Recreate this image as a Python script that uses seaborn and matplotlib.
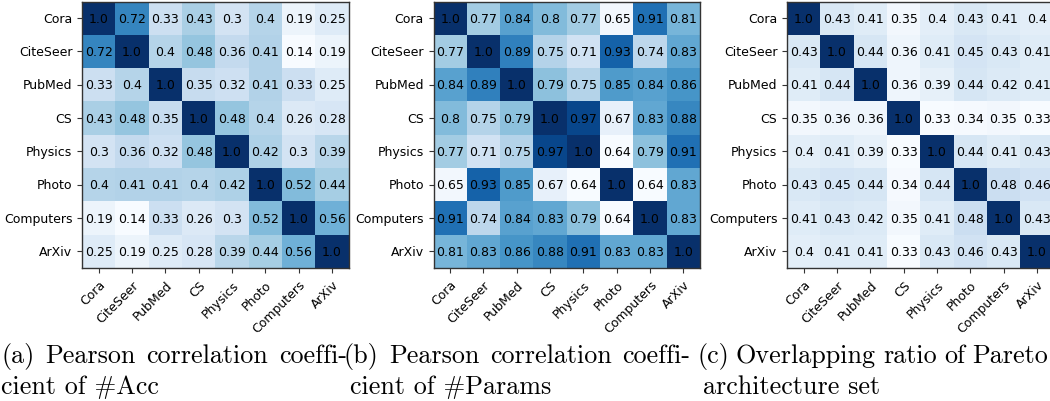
import numpy as np
import pandas as pd
import matplotlib
matplotlib.use("Agg")
import matplotlib.pyplot as plt
import seaborn as sns

datasets = ["Cora", "CiteSeer", "PubMed", "CS", "Physics", "Photo", "Computers", "ArXiv"]

acc_corr = [
    [1.0, 0.72, 0.33, 0.43, 0.3, 0.4, 0.19, 0.25],
    [0.72, 1.0, 0.4, 0.48, 0.36, 0.41, 0.14, 0.19],
    [0.33, 0.4, 1.0, 0.35, 0.32, 0.41, 0.33, 0.25],
    [0.43, 0.48, 0.35, 1.0, 0.48, 0.4, 0.26, 0.28],
    [0.3, 0.36, 0.32, 0.48, 1.0, 0.42, 0.3, 0.39],
    [0.4, 0.41, 0.41, 0.4, 0.42, 1.0, 0.52, 0.44],
    [0.19, 0.14, 0.33, 0.26, 0.3, 0.52, 1.0, 0.56],
    [0.25, 0.19, 0.25, 0.28, 0.39, 0.44, 0.56, 1.0],
]

params_corr = [
    [1.0, 0.77, 0.84, 0.8, 0.77, 0.65, 0.91, 0.81],
    [0.77, 1.0, 0.89, 0.75, 0.71, 0.93, 0.74, 0.83],
    [0.84, 0.89, 1.0, 0.79, 0.75, 0.85, 0.84, 0.86],
    [0.8, 0.75, 0.79, 1.0, 0.97, 0.67, 0.83, 0.88],
    [0.77, 0.71, 0.75, 0.97, 1.0, 0.64, 0.79, 0.91],
    [0.65, 0.93, 0.85, 0.67, 0.64, 1.0, 0.64, 0.83],
    [0.91, 0.74, 0.84, 0.83, 0.79, 0.64, 1.0, 0.83],
    [0.81, 0.83, 0.86, 0.88, 0.91, 0.83, 0.83, 1.0],
]

pareto_overlap = [
    [1.0, 0.43, 0.41, 0.35, 0.4, 0.43, 0.41, 0.4],
    [0.43, 1.0, 0.44, 0.36, 0.41, 0.45, 0.43, 0.41],
    [0.41, 0.44, 1.0, 0.36, 0.39, 0.44, 0.42, 0.41],
    [0.35, 0.36, 0.36, 1.0, 0.33, 0.34, 0.35, 0.33],
    [0.4, 0.41, 0.39, 0.33, 1.0, 0.44, 0.41, 0.43],
    [0.43, 0.45, 0.44, 0.34, 0.44, 1.0, 0.48, 0.46],
    [0.41, 0.43, 0.42, 0.35, 0.41, 0.48, 1.0, 0.43],
    [0.4, 0.41, 0.41, 0.33, 0.43, 0.46, 0.43, 1.0],
]

captions = [
    ("(a) Pearson correlation coeffi-", "cient of #Acc"),
    ("(b) Pearson correlation coeffi-", "cient of #Params"),
    ("(c) Overlapping ratio of Pareto", "architecture set"),
]

W, H = 1050, 402
fig = plt.figure(figsize=(W / 100, H / 100), dpi=100)

# layout in pixels
panel_left = [82.0, 433.5, 787.0]
panel_top = 2.5
panel_size = 266.5

matrices = [acc_corr, params_corr, pareto_overlap]
for left, mat in zip(panel_left, matrices):
    ax = fig.add_axes([left / W, 1 - (panel_top + panel_size) / H, panel_size / W, panel_size / H])
    df = pd.DataFrame(mat, index=datasets, columns=datasets)
    labels = np.array([[str(v) for v in row] for row in mat])
    sns.heatmap(df, ax=ax, cmap="Blues", annot=labels, fmt="", cbar=False,
                annot_kws={"color": "black", "fontsize": 9})
    ax.set_xticklabels(datasets, rotation=45, ha="right", rotation_mode="anchor", fontsize=9)
    ax.set_yticklabels(datasets, rotation=0, fontsize=9)
    ax.tick_params(axis="both", length=3.5, width=0.8, color="#333333")
    for s in ax.spines.values():
        s.set_visible(True)
        s.set_color("#333333")
        s.set_linewidth(1.0)

# captions (justified first line, like LaTeX subcaptions)
fig.canvas.draw()
renderer = fig.canvas.get_renderer()
fs = 18.8
line1_span = [(1, 347), (344, 690), (697, 1048)]
line2_x = [1, 350, 703]
y1, y2 = 363, 394

def put(word, x, y):
    return fig.text(x / W, 1 - y / H, word, fontsize=fs, family="cmr10",
                    ha="left", va="baseline")

for (l1, l2), (x0, x1), lx in zip(captions, line1_span, line2_x):
    words = l1.split(" ")
    texts = [put(w, 0, y1) for w in words]
    widths = [t.get_window_extent(renderer).width for t in texts]
    gap = (x1 - x0 - sum(widths)) / (len(words) - 1)
    x = x0
    for t, w in zip(texts, widths):
        t.set_x(x / W)
        x += w + gap
    put(l2, lx, y2)

fig.savefig("out.png", dpi=100)
